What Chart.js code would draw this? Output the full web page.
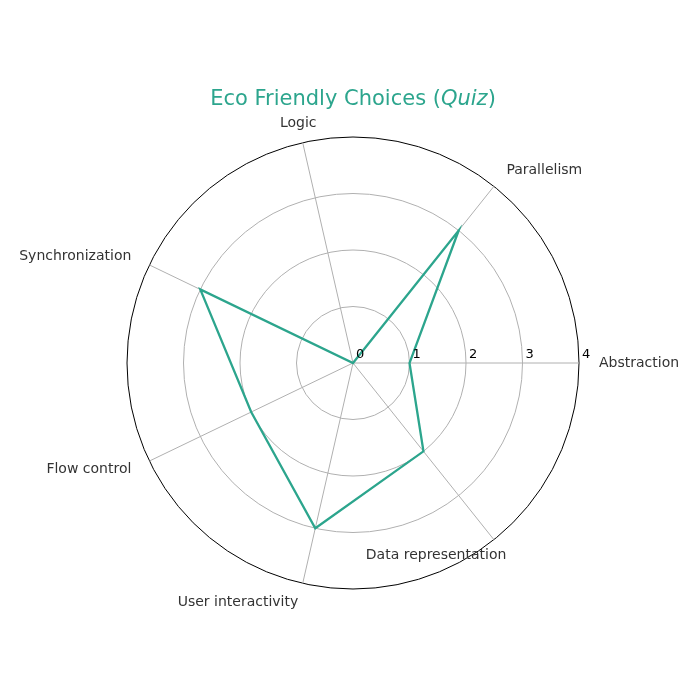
<!DOCTYPE html>
<html><head><meta charset="utf-8">
<script src="https://cdn.jsdelivr.net/npm/chart.js@4"></script>
<style>html,body{margin:0;padding:0;background:#fff}#w{width:700px;height:700px}</style>
</head><body><div id="w"><canvas id="c"></canvas></div>
<script>
// clockwise order starting at the right (matplotlib order is counter-clockwise)
const categories = ["Abstraction","Data representation","User interactivity","Flow control","Synchronization","Logic","Parallelism"];
const values = [1,2,3,2,3,0,3];
const labelAlign = ["left","right","right","right","right","center","left"];
const tickLabels = ["0","1","2","3","4"];
const color = "#2ca58d";

const overlay = {
  id:"overlay",
  afterDraw(chart){
    const c = chart.ctx, s = chart.scales.r;
    c.save();
    // ticks
    c.font = "13px 'DejaVu Sans'"; c.fillStyle = "#000"; c.textBaseline = "middle"; c.textAlign="left";
    tickLabels.forEach((t,i)=>{
      const d = s.getDistanceFromCenterForValue(i);
      c.fillText(t, s.xCenter + d + 3, s.yCenter - 8);
    });
    // point labels
    c.font = "14px 'DejaVu Sans'"; c.fillStyle = "#333";
    categories.forEach((t,i)=>{
      const p = s.getPointPosition(i, s.drawingArea + 20);
      c.textAlign = labelAlign[i];
      c.fillText(t, p.x, p.y);
    });
    // title
    const parts = [["Eco Friendly Choices (",""],["Quiz","italic "],[")",""]];
    c.fillStyle = color; c.textAlign = "left"; c.textBaseline="middle";
    let total = 0;
    parts.forEach(p=>{c.font = p[1]+"21px 'DejaVu Sans'"; total += c.measureText(p[0]).width;});
    let x = 353 - total/2;
    parts.forEach(p=>{c.font = p[1]+"21px 'DejaVu Sans'"; c.fillText(p[0], x, 100); x += c.measureText(p[0]).width;});
    c.restore();
  }
};

new Chart(document.getElementById("c"), {
  type:"radar",
  data:{labels:categories, datasets:[{data:values, borderColor:color, borderWidth:2.3, fill:false, pointRadius:0, tension:0}]},
  options:{
    responsive:true, maintainAspectRatio:false, animation:false,
    layout:{padding:{left:127,right:121,top:137,bottom:111}},
    plugins:{legend:{display:false}, tooltip:{enabled:false}},
    scales:{r:{
      min:0,max:4,startAngle:90,
      ticks:{display:false,stepSize:1},
      pointLabels:{display:false},
      grid:{circular:true, color:(ctx)=> ctx.tick && ctx.tick.value===4 ? "#000" : "#b0b0b0", lineWidth:1},
      angleLines:{color:"#b0b0b0", lineWidth:1}
    }}
  },
  plugins:[overlay]
});
</script></body></html>
